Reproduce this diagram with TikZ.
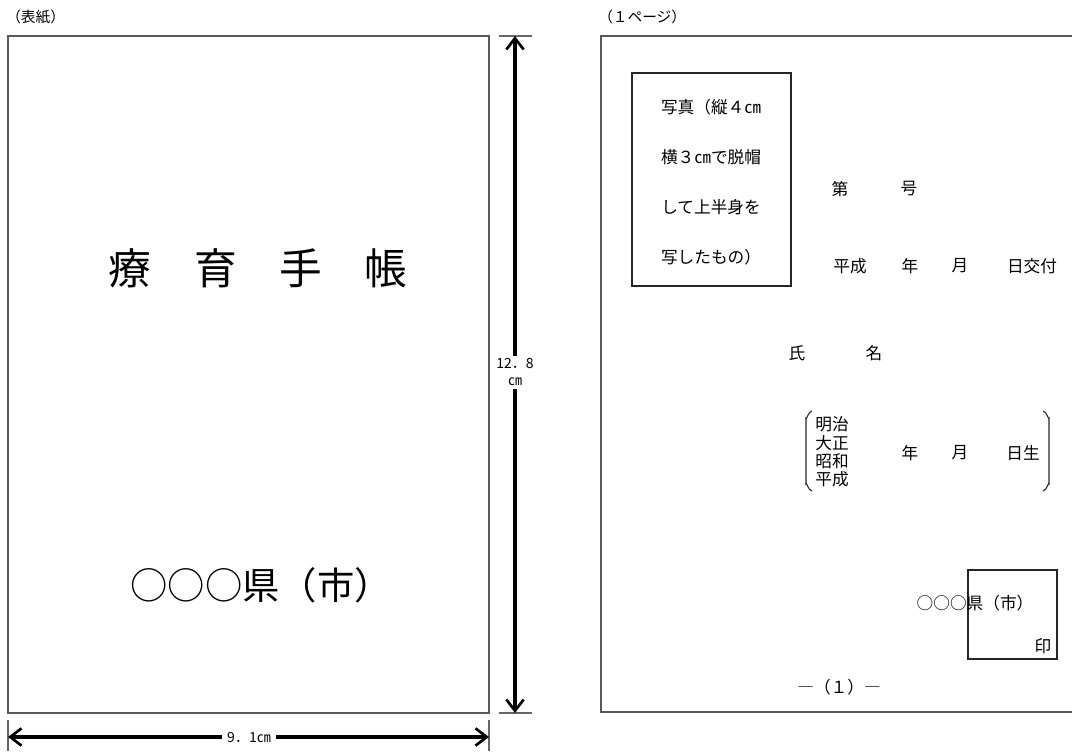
\documentclass[tikz,border=0pt]{standalone}
\usepackage{fontspec}
\setmainfont{Noto Sans CJK JP}
\usetikzlibrary{arrows.meta}

\begin{document}
\begin{tikzpicture}[x=0.75pt,y=-0.75pt,
    page/.style={draw=black!65,line width=0.9pt},
    frame/.style={draw=black!85,line width=0.8pt},
    tick/.style={draw=black!60,line width=0.9pt},
    barb/.tip={Straight Barb[length=8.5pt,width=13pt,line width=2pt]},
    dimline/.style={line width=2.6pt,barb-barb},
    small/.style={font=\fontsize{11}{12}\selectfont,inner sep=0pt},
    body/.style={font=\fontsize{12.5}{13.7}\selectfont,inner sep=0pt},
    dimlabel/.style={font=\fontsize{10.5}{13}\selectfont,fill=white,inner sep=2pt,align=center}]
    \useasboundingbox (0,0) rectangle (1072,751);
    % cover
    \node[small,anchor=west] (coverlabel) at (6,17) {（表紙）};
    \draw[page] (8,36) rectangle (489,713);
    \node[font=\fontsize{32}{36}\selectfont] (title) at (258,268) {療　育　手　帳};
    \node[font=\fontsize{28}{32}\selectfont] (coverpref) at (261,585) {○○○県（市）};
    % dimensions
    \coordinate (vtop) at (515,36);
    \coordinate (vbot) at (515,713);
    \coordinate (hleft) at (8,737);
    \coordinate (hright) at (489,737);
    \draw[tick] (499,36) -- (532,36);
    \draw[tick] (499,713) -- (532,713);
    \draw[tick] (8,720) -- (8,751);
    \draw[tick] (489,720) -- (489,751);
    \draw[dimline] (vtop) -- (vbot);
    \draw[dimline] (hleft) -- (hright);
    \node[dimlabel] (vlabel) at (515,372) {12．8\\㎝};
    \node[dimlabel,inner xsep=4pt] (hlabel) at (249,737) {9．1㎝};
    % page 1
    \node[small,anchor=west] (pagelabel) at (598,17) {（１ページ）};
    \draw[page] (601,36) rectangle (1090,712);
    \draw[frame] (632,73) rectangle (791,286);
    \node[body] (photo1) at (711,107) {写真（縦４㎝};
    \node[body] (photo2) at (711,157) {横３㎝で脱帽};
    \node[body] (photo3) at (711,207) {して上半身を};
    \node[body] (photo4) at (711,257) {写したもの）};
    \node[body] (dai) at (840,189) {第};
    \node[body] (gou) at (909,189) {号};
    \node[body] (heisei) at (850,266) {平成};
    \node[body] (year1) at (910,266) {年};
    \node[body] (month1) at (960,266) {月};
    \node[body] (issued) at (1032,266) {日交付};
    \node[body] (shi) at (797,353) {氏};
    \node[body] (mei) at (874,353) {名};
    \node[body,align=left] (eras) at (832,452) {明治\\大正\\昭和\\平成};
    \node[body] (year2) at (910,453) {年};
    \node[body] (month2) at (960,453) {月};
    \node[body] (born) at (1023,453) {日生};
    \draw[frame] (812,411) to[out=180,in=-90] (806,418) -- (806,484) to[out=90,in=180] (812,491);
    \draw[frame] (1043,411) to[out=0,in=-90] (1049,418) -- (1049,484) to[out=90,in=0] (1043,491);
    \draw[frame] (968,570) rectangle (1057,659);
    \node[body] (sealpref) at (975,603) {○○○県（市）};
    \node[body] (seal) at (1043,646) {印};
    \node[body] (pageno) at (839,687) {―（１）―};
\end{tikzpicture}
\end{document}
